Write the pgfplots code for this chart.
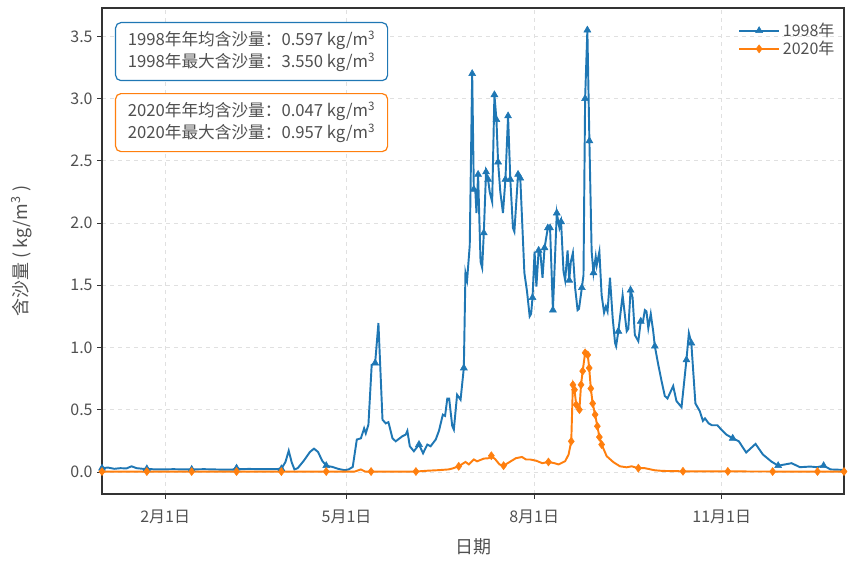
\documentclass[border=0pt]{standalone}
\usepackage{fontspec}
\setmainfont{Noto Sans CJK SC}
\usepackage{pgfplots}
\pgfplotsset{compat=1.18}
\usepackage{pgfplotstable}
\definecolor{c98}{HTML}{1F77B4}
\definecolor{c20}{HTML}{FF7F0E}
\definecolor{txt}{RGB}{80,80,80}

\pgfplotstableread{
d v m
0 0.03 1
3 0.035 0
6 0.025 0
9 0.03 0
12 0.028 0
14.5 0.045 0
17 0.03 0
20 0.025 0
22 0.025 1
26 0.02 0
30 0.02 0
35 0.022 0
40 0.02 0
44 0.02 1
50 0.022 0
55 0.02 0
60 0.018 0
64 0.018 0
66 0.03 1
68 0.022 0
72 0.024 0
78 0.022 0
84 0.022 0
88 0.025 1
90 0.08 0
91.6 0.17 0
93 0.08 0
94.4 0.02 0
96 0.03 0
99 0.09 0
102 0.16 0
104 0.187 0
106 0.16 0
108 0.09 0
110 0.05 1
113 0.04 0
116 0.024 0
119 0.014 0
121 0.02 0
123 0.04 0
125 0.26 0
127 0.27 0
128.6 0.35 0
129.4 0.31 0
130.7 0.38 0
132.3 0.86 0
134 0.875 1
135.6 1.196 0
137.6 0.42 0
139.2 0.39 0
140.5 0.40 0
142.5 0.27 0
144.1 0.246 0
147.3 0.286 0
149 0.30 0
149.8 0.33 0
151 0.206 0
153 0.166 0
155.5 0.22 1
157.5 0.15 0
159.6 0.22 0
161.2 0.206 0
163.7 0.26 0
165.3 0.33 0
167.2 0.46 0
168.3 0.45 0
169.4 0.59 0
170.3 0.59 0
171.8 0.37 0
172.6 0.34 0
174.2 0.62 0
175.9 0.58 0
177.5 0.835 1
178.3 1.60 0
179.1 1.54 0
180.4 1.82 0
181.6 3.20 1
182.4 2.27 1
183.1 2.27 0
183.7 2.08 0
184.5 2.39 1
185.7 1.69 0
186.5 1.64 0
187.3 1.92 1
188.4 2.41 1
189.4 2.35 1
190.2 2.25 0
191.4 2.17 0
192.5 3.03 1
193.5 2.83 1
194.3 2.49 1
195.4 2.25 0
196.7 2.08 0
197.9 2.35 1
199.2 2.86 1
200.3 2.35 1
201.6 1.96 0
202.3 1.93 0
204.1 2.39 1
205.2 2.36 1
207.2 1.60 0
208.5 1.45 0
209.8 1.25 0
210.5 1.27 0
211.2 1.40 1
212.2 1.77 0
213.1 1.49 0
214.2 1.78 1
215 1.77 0
216.1 1.56 0
217.1 1.80 1
218.7 1.96 1
219.8 1.96 1
221.2 1.30 1
223.1 2.08 1
224.4 1.96 0
225.2 2.01 1
226.4 1.61 0
227.2 1.54 0
228.4 1.78 0
229.2 1.54 1
230 1.69 0
231 1.76 0
232.1 1.48 0
233.3 1.30 0
234 1.31 0
235.4 1.48 1
236.2 1.58 0
237 3.00 1
238.1 3.55 1
239.1 2.66 1
240.2 1.77 0
241.1 1.60 1
242.2 1.73 0
242.7 1.66 0
244 1.77 0
245.1 1.42 0
246.3 1.28 0
247.2 1.33 0
248 1.29 0
249.2 1.56 0
250.5 1.24 0
251.7 1.035 0
252.2 1.01 0
253.3 1.13 1
255.4 1.42 0
257.4 1.13 0
258.2 1.15 0
259.3 1.46 1
260.3 1.40 0
261.4 1.10 0
263.1 1.05 0
264.3 1.21 1
265.4 1.21 0
266.3 1.30 0
267.1 1.29 0
268 1.155 0
269.2 1.27 0
270.4 1.13 0
271.2 1.01 1
272.9 0.86 0
274.5 0.73 0
276.1 0.61 0
277.4 0.59 0
280.2 0.69 0
281.8 0.57 0
284.3 0.52 0
286.7 0.90 1
287.9 1.115 0
289.1 1.035 1
291.1 0.55 0
293.2 0.49 0
294.8 0.41 0
295.8 0.43 0
297.6 0.39 0
299.2 0.375 0
301.9 0.375 0
303.8 0.34 0
306.3 0.30 0
309.4 0.27 1
312.4 0.246 0
316 0.156 0
320.6 0.225 0
324.2 0.14 0
328.4 0.083 0
331.7 0.05 1
335 0.06 0
338.3 0.07 0
342.4 0.038 0
347.4 0.043 0
350.7 0.038 0
354 0.05 1
357.4 0.02 0
364 0.016 0
}\dataA

\pgfplotstableread{
d v m
0 0.003 1
22 0.003 1
44 0.003 1
66 0.003 1
88 0.003 1
110 0.003 1
124 0.003 0
127 0.02 0
129 0.003 0
132 0.003 1
154 0.003 1
160 0.01 0
165 0.014 0
170 0.02 0
171.8 0.027 0
175 0.045 1
178.3 0.08 0
180 0.06 0
182.4 0.10 0
184 0.085 0
187.3 0.107 0
189.7 0.11 0
191 0.13 1
193 0.10 0
195 0.06 0
197 0.05 1
199 0.07 0
201 0.09 0
203 0.11 0
206 0.12 0
208 0.10 0
210 0.10 0
213 0.09 0
216 0.07 0
219 0.08 1
222 0.07 0
224 0.06 0
227.2 0.086 0
228.9 0.14 0
230.2 0.246 1
231 0.70 1
231.8 0.66 1
232.6 0.54 1
233.4 0.52 0
234.2 0.50 1
235 0.70 1
235.8 0.81 1
237 0.957 1
238.3 0.94 1
239 0.835 1
239.8 0.67 1
240.7 0.55 1
241.9 0.46 1
243 0.367 1
244 0.28 1
245.1 0.22 1
247.6 0.126 0
250.9 0.078 0
254.1 0.045 0
257.4 0.037 0
259.8 0.045 0
263.1 0.03 1
266.3 0.03 0
271.2 0.013 0
275 0.008 0
285 0.005 1
307 0.004 1
329 0.003 1
351 0.003 1
364 0.003 1
}\dataB

\begin{document}
\begin{tikzpicture}
\begin{axis}[
  name=ax,
  scale only axis,
  width=556.5pt, height=364.5pt,
  xmin=0, xmax=364, ymin=-0.1775, ymax=3.7275,
  xtick={31,120,212,304},
  xticklabels={2月1日,5月1日,8月1日,11月1日},
  ytick={0,0.5,1,1.5,2,2.5,3,3.5},
  yticklabel style={/pgf/number format/.cd, fixed, fixed zerofill, precision=1},
  /pgf/number format/assume math mode=true,
  tick label style={font=\fontsize{12pt}{14pt}\selectfont, text=txt},
  xticklabel style={yshift=-5pt},
  label style={font=\fontsize{13.5pt}{16pt}\selectfont, text=txt},
  xlabel={日期}, ylabel={含沙量 ( kg/m\textsuperscript{3} )},
  xlabel style={at={(axis description cs:0.5,0)}, anchor=center, yshift=-39.75pt},
  ylabel style={at={(axis description cs:0,0.5)}, anchor=center, xshift=0pt, yshift=60pt},
  grid=major,
  grid style={dashed, black!12, line width=0.6pt},
  axis line style={black!80, line width=0.8pt},
  tick pos=left, tick align=outside,
  major tick length=3.5pt,
  tick style={black!80, line width=0.6pt},
  legend style={draw=none, fill=none, at={(rel axis cs:1,1)}, anchor=north east,
    xshift=-2pt, yshift=-7pt,
    font=\fontsize{12pt}{14pt}\selectfont, text=txt, row sep=-2pt},
  legend cell align=left,
  legend image code/.code={\draw[#1, line width=1.5pt, mark options={line width=0.4pt}, mark repeat=2, mark phase=2] plot coordinates {(0cm,0cm) (0.53cm,0cm) (1.06cm,0cm)};},
]
\addplot[c98, line width=1.45pt, no marks, forget plot] table[x=d, y=v] {\dataA};
\addplot[c20, line width=1.45pt, no marks, forget plot] table[x=d, y=v] {\dataB};
\addplot[c98, only marks, mark=triangle*, mark size=3pt, forget plot, restrict expr to domain={\thisrow{m}}{0.5:1.5}, unbounded coords=discard] table[x=d, y=v] {\dataA};
\addplot[c20, only marks, mark=diamond*, mark size=3pt, forget plot, restrict expr to domain={\thisrow{m}}{0.5:1.5}, unbounded coords=discard] table[x=d, y=v] {\dataB};
\addlegendimage{c98, mark=triangle*, mark size=3pt}
\addlegendentry{1998年}
\addlegendimage{c20, mark=diamond*, mark size=3pt}
\addlegendentry{2020年}
\node[draw=c98, line width=0.9pt, rounded corners=4pt, fill=white, anchor=north west,
  align=left, text=txt, font=\fontsize{12.5pt}{16.5pt}\selectfont,
  minimum width=204pt, minimum height=43.5pt, inner sep=0pt,
  xshift=9.75pt, yshift=-10.5pt]
  at (axis description cs:0,1) {1998年年均含沙量：0.597 kg/m\textsuperscript{3}\\1998年最大含沙量：3.550 kg/m\textsuperscript{3}};
\node[draw=c20, line width=0.9pt, rounded corners=4pt, fill=white, anchor=north west,
  align=left, text=txt, font=\fontsize{12.5pt}{16.5pt}\selectfont,
  minimum width=204pt, minimum height=43.5pt, inner sep=0pt,
  xshift=9.75pt, yshift=-63.75pt]
  at (axis description cs:0,1) {2020年年均含沙量：0.047 kg/m\textsuperscript{3}\\2020年最大含沙量：0.957 kg/m\textsuperscript{3}};
\end{axis}
\pgfresetboundingbox
\useasboundingbox ([xshift=-76.5pt,yshift=-49.5pt]ax.south west) rectangle ([xshift=5.25pt,yshift=6pt]ax.north east);
\end{tikzpicture}
\end{document}
